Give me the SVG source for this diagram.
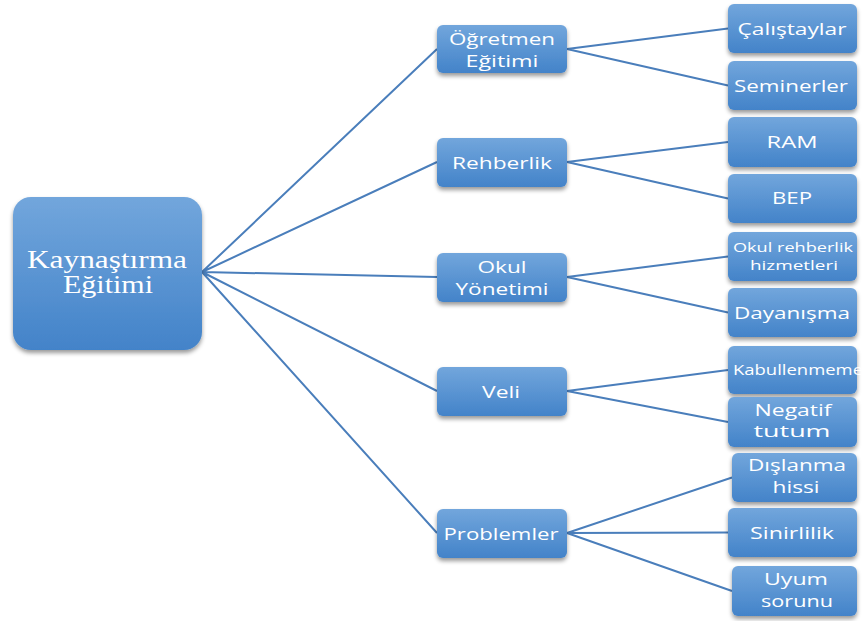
<svg xmlns="http://www.w3.org/2000/svg" width="865" height="621" viewBox="0 0 865 621">
<defs>
<linearGradient id="g" x1="0" y1="0" x2="0" y2="1">
<stop offset="0" stop-color="#72a6dc"/>
<stop offset="1" stop-color="#4383c9"/>
</linearGradient>
<filter id="sh" x="-10%" y="-10%" width="120%" height="130%">
<feDropShadow dx="0" dy="3" stdDeviation="2.2" flood-color="#000" flood-opacity="0.4"/>
</filter>
<style>
.b{fill:url(#g);filter:url(#sh)}
.t{fill:#fff;font-family:"Open Sans","Liberation Sans",sans-serif;font-size:17px;text-anchor:middle}
.s{font-size:13px}
.k{font-size:14.5px}
.r{fill:#fff;font-family:"Liberation Serif",serif;font-size:25px;text-anchor:middle}
.c path{stroke:#4a7ebb;stroke-width:2;fill:none}
</style>
</defs>
<rect width="865" height="621" fill="#fff"/>
<g class="c">
<path d="M202 272L437 49M202 272L437 162M202 272L437 277M202 272L437 391M202 272L437 533"/>
<path d="M567 49L728 28.5M567 49L728 85.5"/>
<path d="M567 162L728 142M567 162L728 198.5"/>
<path d="M567 277L728 256.5M567 277L728 312.5"/>
<path d="M567 391L728 370M567 391L728 422"/>
<path d="M567 533L732 477.5M567 533L728 532.5M567 533L732 591"/>
</g>
<g id="root"><rect class="b" x="13" y="197" width="189" height="153" rx="18"/>
<text class="r" x="107" y="268" textLength="160" lengthAdjust="spacingAndGlyphs">Kaynaştırma</text>
<text class="r" x="108" y="293" textLength="90" lengthAdjust="spacingAndGlyphs">Eğitimi</text></g>
<g id="ogretmen"><rect class="b" x="437" y="25" width="130" height="48" rx="6"/>
<text class="t" x="502" y="45" textLength="106" lengthAdjust="spacingAndGlyphs">Öğretmen</text>
<text class="t" x="502" y="67" textLength="73" lengthAdjust="spacingAndGlyphs">Eğitimi</text></g>
<g id="rehberlik"><rect class="b" x="437" y="138" width="130" height="49" rx="6"/>
<text class="t" x="502" y="169" textLength="100" lengthAdjust="spacingAndGlyphs">Rehberlik</text></g>
<g id="okulyonetimi"><rect class="b" x="437" y="253" width="130" height="49" rx="6"/>
<text class="t" x="502" y="273" textLength="49" lengthAdjust="spacingAndGlyphs">Okul</text>
<text class="t" x="502" y="295" textLength="93" lengthAdjust="spacingAndGlyphs">Yönetimi</text></g>
<g id="veli"><rect class="b" x="437" y="367" width="130" height="49" rx="6"/>
<text class="t" x="501" y="398" textLength="38" lengthAdjust="spacingAndGlyphs">Veli</text></g>
<g id="problemler"><rect class="b" x="437" y="509" width="130" height="49" rx="6"/>
<text class="t" x="501" y="540" textLength="115" lengthAdjust="spacingAndGlyphs">Problemler</text></g>
<g id="calistaylar"><rect class="b" x="728" y="4" width="129" height="49" rx="6"/>
<text class="t" x="792" y="35" textLength="109" lengthAdjust="spacingAndGlyphs">Çalıştaylar</text></g>
<g id="seminerler"><rect class="b" x="728" y="61" width="129" height="49" rx="6"/>
<text class="t" x="791" y="92" textLength="114" lengthAdjust="spacingAndGlyphs">Seminerler</text></g>
<g id="ram"><rect class="b" x="728" y="117" width="129" height="50" rx="6"/>
<text class="t" x="792" y="148" textLength="51" lengthAdjust="spacingAndGlyphs">RAM</text></g>
<g id="bep"><rect class="b" x="728" y="174" width="129" height="49" rx="6"/>
<text class="t" x="792" y="204" textLength="40" lengthAdjust="spacingAndGlyphs">BEP</text></g>
<g id="okulrehberlik"><rect class="b" x="728" y="232" width="129" height="49" rx="6"/>
<text class="t s" x="793" y="252" textLength="120" lengthAdjust="spacingAndGlyphs">Okul rehberlik</text>
<text class="t s" x="794" y="270" textLength="88" lengthAdjust="spacingAndGlyphs">hizmetleri</text></g>
<g id="dayanisma"><rect class="b" x="728" y="288" width="129" height="49" rx="6"/>
<text class="t" x="792" y="319" textLength="116" lengthAdjust="spacingAndGlyphs">Dayanışma</text></g>
<g id="kabullenmeme"><rect class="b" x="728" y="346" width="129" height="48" rx="6"/>
<text class="t k" x="798" y="375" textLength="130" lengthAdjust="spacingAndGlyphs">Kabullenmeme</text></g>
<g id="negatif"><rect class="b" x="728" y="397" width="129" height="50" rx="6"/>
<text class="t" x="793" y="416" textLength="77" lengthAdjust="spacingAndGlyphs">Negatif</text>
<text class="t" x="792" y="437" textLength="77" lengthAdjust="spacingAndGlyphs">tutum</text></g>
<g id="dislanma"><rect class="b" x="732" y="453" width="125" height="49" rx="6"/>
<text class="t" x="797" y="471" textLength="98" lengthAdjust="spacingAndGlyphs">Dışlanma</text>
<text class="t" x="796" y="493" textLength="47" lengthAdjust="spacingAndGlyphs">hissi</text></g>
<g id="sinirlilik"><rect class="b" x="728" y="508" width="129" height="49" rx="6"/>
<text class="t" x="792" y="539" textLength="84" lengthAdjust="spacingAndGlyphs">Sinirlilik</text></g>
<g id="uyum"><rect class="b" x="732" y="566" width="125" height="50" rx="6"/>
<text class="t" x="796" y="585" textLength="64" lengthAdjust="spacingAndGlyphs">Uyum</text>
<text class="t" x="797" y="607" textLength="72" lengthAdjust="spacingAndGlyphs">sorunu</text></g>
</svg>
